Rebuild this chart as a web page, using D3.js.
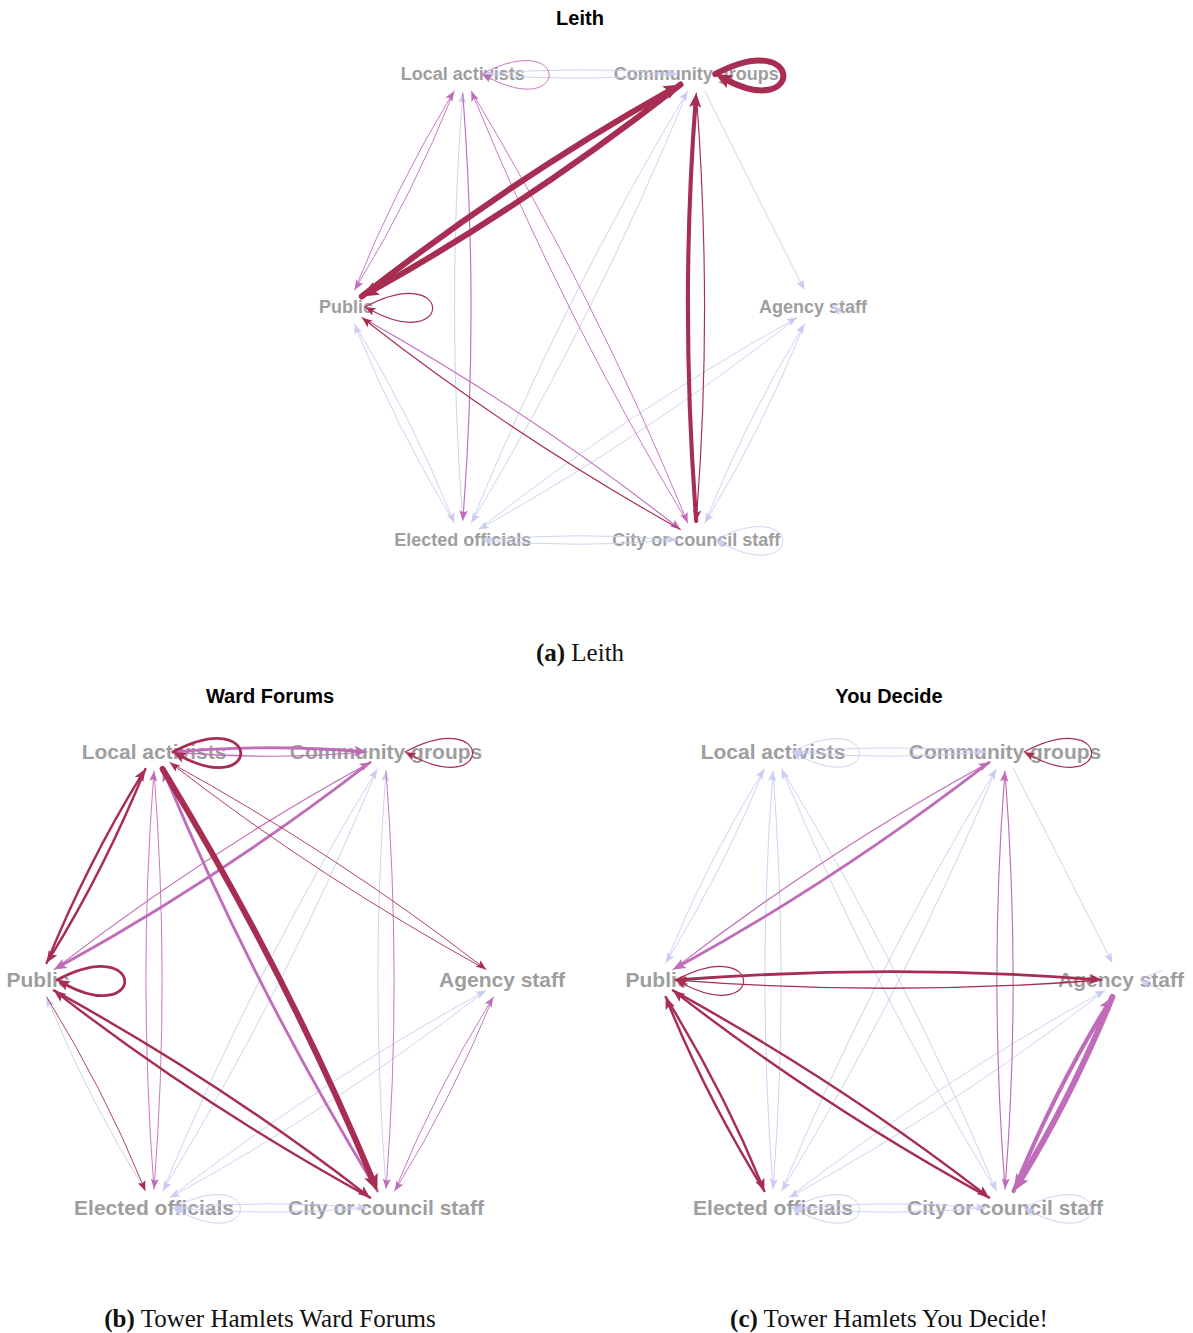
<!DOCTYPE html>
<html>
<head>
<meta charset="utf-8">
<script src="https://cdn.jsdelivr.net/npm/d3@7"></script>
<style>
  body { margin: 0; background: #fff; }
</style>
</head>
<body>
<svg id="chart"></svg>
<script>
// nodes, in layout_in_circle order (angle 0, 60, 120 ... degrees)
const nodeIds = ["AS", "CG", "LA", "P", "EO", "CS"];
const nodeLabels = ["Agency staff", "Community groups", "Local activists", "Public", "Elected officials", "City or council staff"];

const panelTitles = ["Leith", "Ward Forums", "You Decide"];
const captionTags = ["(a)", "(b)", "(c)"];
const captionTexts = ["Leith", "Tower Hamlets Ward Forums", "Tower Hamlets You Decide!"];

// [from, to, tie type (1 weak, 2 medium, 3 strong), weight]
const leithEdges = [
  ["LA", "LA", 2, 1], ["CG", "CG", 3, 5],
  ["LA", "CG", 1, 1], ["CG", "LA", 1, 1],
  ["CG", "P", 3, 5], ["P", "CG", 3, 5],
  ["LA", "P", 2, 1], ["P", "LA", 2, 1],
  ["LA", "EO", 2, 1.2], ["EO", "LA", 1, 1],
  ["LA", "CS", 2, 1], ["CS", "LA", 2, 1],
  ["CG", "EO", 1, 1], ["EO", "CG", 1, 1],
  ["CG", "CS", 3, 1.2], ["CS", "CG", 3, 3.5],
  ["CG", "AS", 1, 1],
  ["P", "P", 3, 1.2],
  ["P", "CS", 2, 1.2], ["CS", "P", 3, 1.2],
  ["P", "EO", 1, 1], ["EO", "P", 1, 1],
  ["AS", "EO", 1, 1], ["EO", "AS", 1, 1],
  ["AS", "CS", 1, 1], ["CS", "AS", 1, 1],
  ["EO", "CS", 1, 1], ["CS", "EO", 1, 1],
  ["CS", "CS", 1, 1], ["AS", "AS", 1, 1]
];

const wardEdges = [
  ["LA", "LA", 3, 2.5], ["CG", "CG", 3, 1.2],
  ["LA", "CG", 2, 2.5], ["CG", "LA", 2, 1.2],
  ["LA", "P", 3, 2.2], ["P", "LA", 3, 2.2],
  ["LA", "EO", 2, 1], ["EO", "LA", 2, 1],
  ["LA", "CS", 3, 5], ["CS", "LA", 2, 2.5],
  ["LA", "AS", 3, 1], ["AS", "LA", 3, 1],
  ["CG", "P", 2, 2.5], ["P", "CG", 2, 1.2],
  ["CG", "EO", 1, 1], ["EO", "CG", 1, 1],
  ["CG", "CS", 2, 1], ["CS", "CG", 1, 1],
  ["P", "P", 3, 2.5],
  ["P", "EO", 3, 1], ["EO", "P", 1, 1],
  ["P", "CS", 3, 2.2], ["CS", "P", 3, 2.2],
  ["AS", "EO", 1, 1], ["EO", "AS", 1, 1],
  ["AS", "CS", 2, 1], ["CS", "AS", 2, 1],
  ["EO", "CS", 1, 1], ["CS", "EO", 1, 1],
  ["EO", "EO", 1, 1]
];

const decideEdges = [
  ["LA", "LA", 1, 1], ["CG", "CG", 3, 1.2],
  ["LA", "CG", 1, 1], ["CG", "LA", 1, 1],
  ["LA", "P", 1, 1], ["P", "LA", 1, 1],
  ["LA", "EO", 1, 1], ["EO", "LA", 1, 1],
  ["LA", "CS", 1, 1], ["CS", "LA", 1, 1],
  ["CG", "P", 2, 2.5], ["P", "CG", 2, 1.2],
  ["CG", "EO", 1, 1], ["EO", "CG", 1, 1],
  ["CG", "CS", 2, 1.2], ["CS", "CG", 2, 1.2],
  ["CG", "AS", 1, 1],
  ["P", "P", 3, 1.2],
  ["P", "AS", 3, 2.5], ["AS", "P", 3, 1.3],
  ["P", "EO", 3, 2.2], ["EO", "P", 3, 2.2],
  ["P", "CS", 3, 2.2], ["CS", "P", 3, 2.2],
  ["AS", "EO", 1, 1], ["EO", "AS", 1, 1],
  ["AS", "CS", 2, 5], ["CS", "AS", 2, 3.5],
  ["EO", "CS", 1, 1], ["CS", "EO", 1, 1],
  ["EO", "EO", 1, 1], ["CS", "CS", 1, 1], ["AS", "AS", 1, 1]
];

const width = 1193, height = 1333;
const svg = d3.select('#chart').attr('width', width).attr('height', height);

// clipRight: right edge of each plot region (loops beyond it are cut off)
const panels = [
  { edges: leithEdges, x: [346, 813], y: [540, 74], font: 18, cx: 580, titleY: 25, capY: 661, clipRight: 845 },
  { edges: wardEdges, x: [38, 502], y: [1208, 752], font: 21, cx: 270, titleY: 703, capY: 1327, clipRight: 580 },
  { edges: decideEdges, x: [657, 1121], y: [1208, 752], font: 21, cx: 889, titleY: 703, capY: 1327, clipRight: 1162 }
];

const color = d3.scaleOrdinal().domain([1, 2, 3]).range(['#c9cdf1', '#bf6cb9', '#a82d52']);
const strokeW = d3.scaleLinear().domain([1, 5]).range([0.9, 6]);
const R = 19;          // vertex radius, edges stop here
const s60 = Math.sin(Math.PI / 3);

function unit(v) {
  const l = Math.hypot(v[0], v[1]);
  return [v[0] / l, v[1] / l];
}

function arrowPoints(tip, dir, w) {
  const len = 9 + w * 1.3, hw = 3.4 + w * 0.65;
  const px = -dir[1], py = dir[0];
  const bx = tip[0] - dir[0] * len, by = tip[1] - dir[1] * len;
  const nx = tip[0] - dir[0] * len * 0.8, ny = tip[1] - dir[1] * len * 0.8;
  return [tip, [bx + px * hw, by + py * hw], [nx, ny], [bx - px * hw, by - py * hw]];
}

function edgeShape(a, b, w, mutual) {
  const len = 9 + w * 1.3;
  if (a === b) {
    // self loop to the right of the vertex
    const tip = [a.x + R, a.y];
    const W = 89, H = 47;
    const p1 = [tip[0] + W, tip[1] - H], p2 = [tip[0] + W, tip[1] + H];
    const dir = unit([tip[0] - p2[0], tip[1] - p2[1]]);
    const e = [tip[0] - dir[0] * len * 0.7, tip[1] - dir[1] * len * 0.7];
    return { d: `M${tip}C${p1} ${p2} ${e}`, head: arrowPoints(tip, dir, w) };
  }
  const u = unit([b.x - a.x, b.y - a.y]);
  const L = Math.hypot(b.x - a.x, b.y - a.y);
  const s = [a.x + u[0] * R, a.y + u[1] * R];
  const t = [b.x - u[0] * R, b.y - u[1] * R];
  const k = mutual ? 0.035 * L : 0;
  const c = [(s[0] + t[0]) / 2 + u[1] * k, (s[1] + t[1]) / 2 - u[0] * k];
  const dir = unit([t[0] - c[0], t[1] - c[1]]);
  const e = [t[0] - dir[0] * len * 0.7, t[1] - dir[1] * len * 0.7];
  return { d: `M${s}Q${c} ${e}`, head: arrowPoints(t, dir, w) };
}

panels.forEach((p, i) => {
  const x = d3.scaleLinear().domain([-1, 1]).range(p.x);
  const y = d3.scaleLinear().domain([-s60, s60]).range(p.y);

  const nodes = nodeIds.map((id, j) => ({
    id, label: nodeLabels[j],
    x: x(Math.cos(j * Math.PI / 3)),
    y: y(Math.sin(j * Math.PI / 3))
  }));
  const byId = new Map(nodes.map(n => [n.id, n]));

  const g = svg.append('g');

  svg.append('clipPath')
    .attr('id', 'clip' + i)
    .append('rect')
    .attr('x', 0).attr('y', 0)
    .attr('width', p.clipRight).attr('height', height);

  // title
  g.append('text')
    .attr('x', p.cx).attr('y', p.titleY)
    .attr('text-anchor', 'middle')
    .style('font-family', 'Liberation Sans, Arial, sans-serif')
    .style('font-weight', 'bold')
    .style('font-size', '20px')
    .text(panelTitles[i]);

  // vertex labels (edges are drawn on top of them)
  g.selectAll('text.node')
    .data(nodes)
    .join('text')
    .attr('class', 'node')
    .attr('x', d => d.x).attr('y', d => d.y)
    .attr('text-anchor', 'middle')
    .attr('dy', '0.35em')
    .style('font-family', 'Liberation Sans, Arial, sans-serif')
    .style('font-weight', 'bold')
    .style('font-size', p.font + 'px')
    .style('fill', '#9e9e9e')
    .text(d => d.label);

  const keys = new Set(p.edges.map(e => e[0] + '>' + e[1]));
  const edges = p.edges.map(e => {
    const w = strokeW(e[3]);
    const mutual = e[0] !== e[1] && keys.has(e[1] + '>' + e[0]);
    return { type: e[2], w, ...edgeShape(byId.get(e[0]), byId.get(e[1]), w, mutual) };
  }).sort((a, b) => a.type - b.type);

  const eg = g.append('g')
    .attr('clip-path', `url(#clip${i})`)
    .selectAll('g.edge')
    .data(edges)
    .join('g')
    .attr('class', 'edge');

  eg.append('path')
    .attr('d', d => d.d)
    .attr('fill', 'none')
    .attr('stroke', d => color(d.type))
    .attr('stroke-width', d => d.w)
    .attr('stroke-linecap', 'round');

  eg.append('polygon')
    .attr('points', d => d.head.map(q => q.join(',')).join(' '))
    .attr('fill', d => color(d.type));

  // caption under the panel
  const cap = g.append('text')
    .attr('x', p.cx).attr('y', p.capY)
    .attr('text-anchor', 'middle')
    .style('font-family', 'Liberation Serif, serif')
    .style('font-size', '25px')
    .style('fill', '#111');
  cap.append('tspan').style('font-weight', 'bold').text(captionTags[i]);
  cap.append('tspan').text(' ' + captionTexts[i]);
});
</script>
</body>
</html>
